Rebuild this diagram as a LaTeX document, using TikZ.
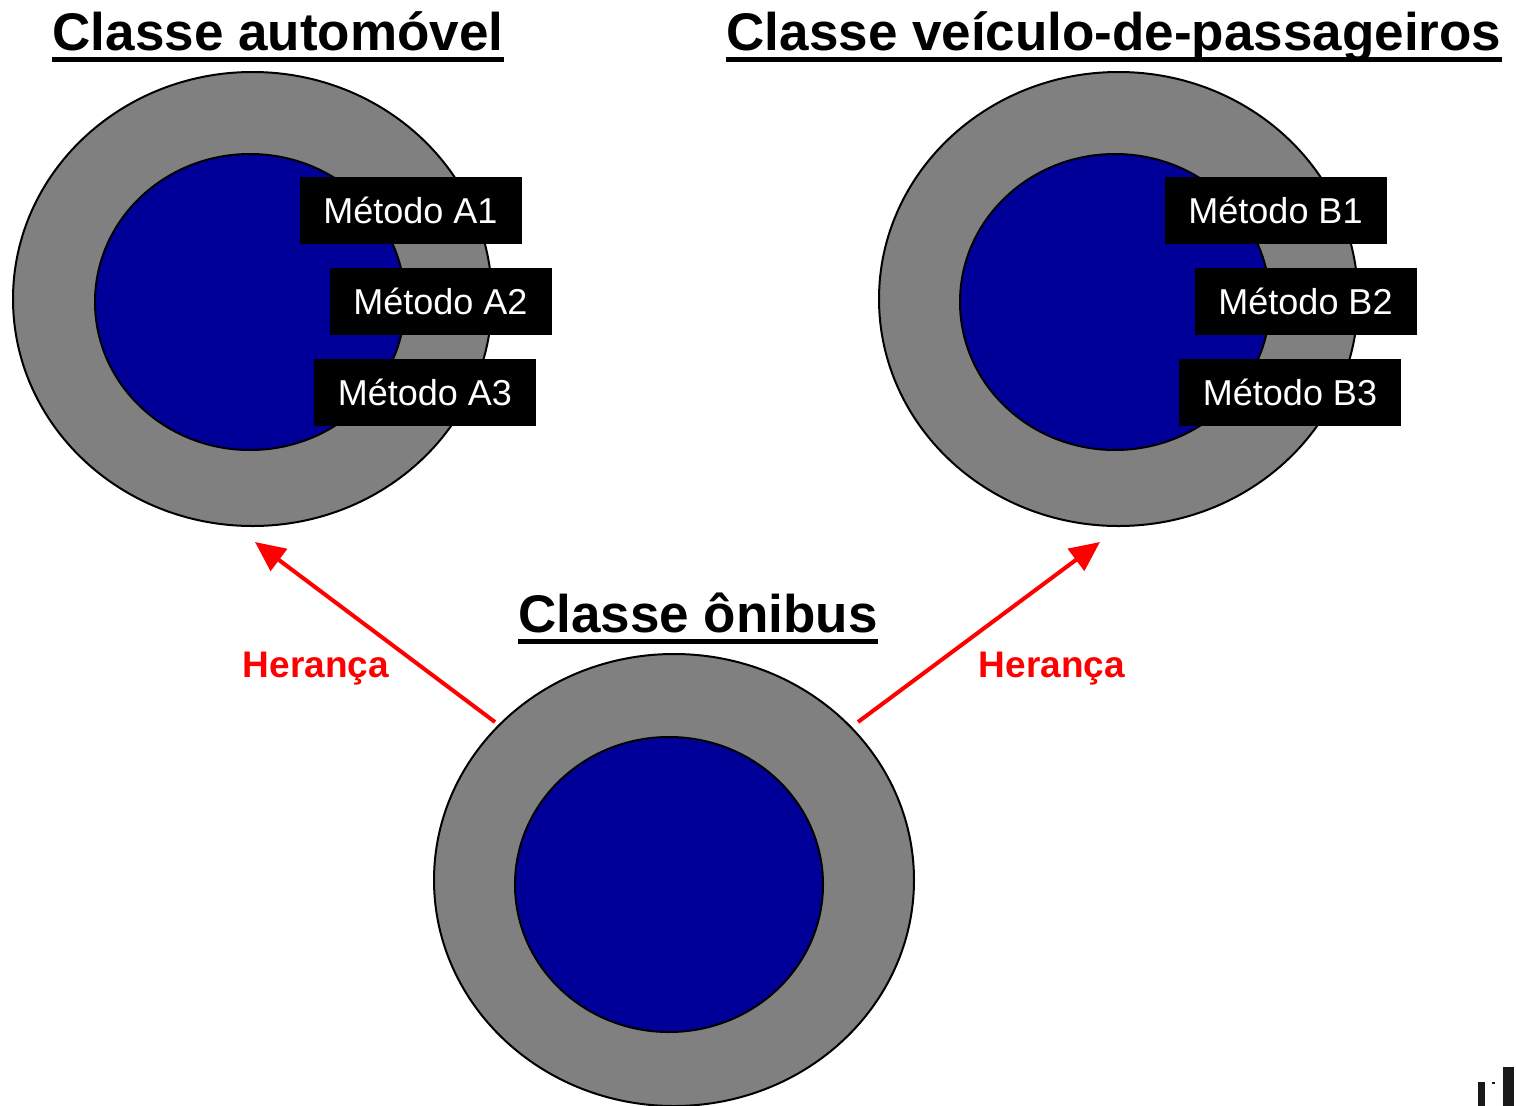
\documentclass[tikz,border=0pt]{standalone}
\usepackage{fontspec}
\setmainfont{Liberation Sans}
\usetikzlibrary{shapes.geometric,arrows.meta}
\definecolor{ringgray}{RGB}{128,128,128}
\definecolor{coreblue}{RGB}{0,0,153}
\definecolor{herred}{RGB}{255,0,0}
\tikzset{
  outerring/.style={ellipse, draw=black, line width=2pt, fill=ringgray, inner sep=0pt},
  innercore/.style={ellipse, draw=black, line width=2pt, fill=coreblue, inner sep=0pt},
  methodbox/.style={rectangle, fill=black, text=white, inner sep=0pt, minimum width=222pt,
    minimum height=67pt, text height=26pt, text depth=0pt, font=\fontsize{36}{40}\selectfont},
  titletext/.style={anchor=base, inner sep=0pt, font=\bfseries\fontsize{53}{60}\selectfont},
  inherit/.style={anchor=base, inner sep=0pt, text=herred, font=\bfseries\fontsize{37}{42}\selectfont},
  inharrow/.style={draw=herred, line width=4pt, -{Triangle[length=30pt,width=27pt]}},
  uline/.style={line width=4.5pt}
}
\begin{document}
\begin{tikzpicture}[x=1pt,y=-1pt]
\useasboundingbox (0,0) rectangle (1516,1106);
\clip (0,0) rectangle (1516,1106);
\fill[white] (0,0) rectangle (1516,1106);

% titles
\node[titletext] (t1) at (278,50) {Classe automóvel};
\draw[uline] ([yshift=-9.5pt]t1.base west) -- ([yshift=-9.5pt]t1.base east);
\node[titletext] (t2) at (1114,50) {Classe veículo-de-passageiros};
\draw[uline] ([yshift=-9.5pt]t2.base west) -- ([yshift=-9.5pt]t2.base east);
\node[titletext] (t3) at (698,632) {Classe ônibus};
\draw[uline] ([yshift=-9.5pt]t3.base west) -- ([yshift=-9.5pt]t3.base east);

% left class
\node[outerring, minimum width=479pt, minimum height=454pt] (ao) at (252.5,299) {};
\node[innercore, minimum width=310pt, minimum height=296pt] (ai) at (250,302) {};
\node[methodbox] (a1) at (410.5,210.5) {Método A1};
\node[methodbox] (a2) at (440.5,301.5) {Método A2};
\node[methodbox] (a3) at (425,392) {Método A3};

% right class
\node[outerring, minimum width=479pt, minimum height=454pt] (bo) at (1118.5,299) {};
\node[innercore, minimum width=310pt, minimum height=296pt] (bi) at (1115,302) {};
\node[methodbox] (b1) at (1275.5,210.5) {Método B1};
\node[methodbox] (b2) at (1305.5,301.5) {Método B2};
\node[methodbox] (b3) at (1290,392) {Método B3};

% bottom class
\node[outerring, minimum width=480pt, minimum height=452pt] (co) at (674,880) {};
\node[innercore, minimum width=308pt, minimum height=295pt] (ci) at (669,884.5) {};

% inheritance arrows
\coordinate (ls) at (495,722);
\coordinate (le) at (255,542);
\coordinate (rs) at (858,722);
\coordinate (re) at (1100,542);
\draw[inharrow] (ls) -- (le);
\draw[inharrow] (rs) -- (re);
\node[inherit] (h1) at (316,677) {Herança};
\node[inherit] (h2) at (1052,677) {Herança};

% cropped logo fragment
\fill[black!90] (1478,1082) rectangle (1485,1106);
\fill[black!90] (1492,1082) rectangle (1495,1084);
\fill[black!90] (1503,1067) rectangle (1514,1106);
\end{tikzpicture}
\end{document}
